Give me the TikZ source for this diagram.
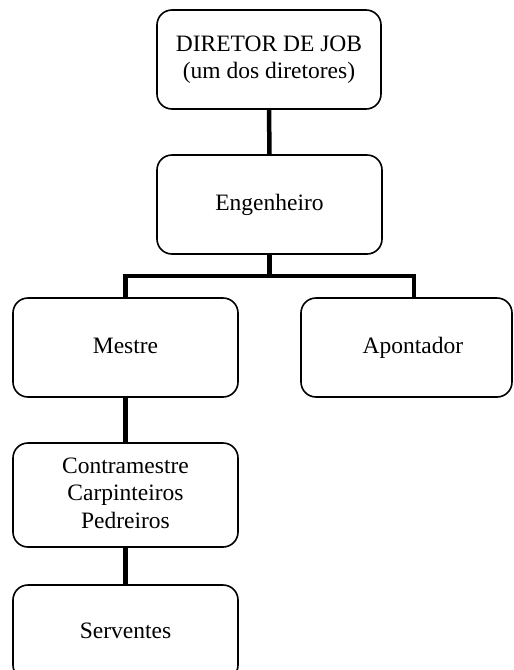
\documentclass[tikz,border=0pt]{standalone}
\usepackage{fontspec}
\setmainfont{Liberation Serif}
\begin{document}
\begin{tikzpicture}[x=1pt,y=-1pt,
  box/.style={draw=black, line width=1.6pt, rounded corners=15pt, fill=white,
    rectangle, inner sep=0pt, align=center,
    font=\fontsize{23.5}{27.5}\selectfont},
  link/.style={draw=black, line width=4.5pt, line join=miter}]
  \useasboundingbox (0,0) rectangle (514,670);
  \clip (0,0) rectangle (514,670);

  % boxes of the chart
  \node[box, minimum width=224pt, minimum height=99pt] (dir) at (269,59.5)
    {\strut DIRETOR DE JOB\\\strut(um dos diretores)};
  \node[box, minimum width=225pt, minimum height=99pt] (eng) at (269.5,204.5)
    {\strut Engenheiro};
  \node[box, minimum width=225pt, minimum height=99pt] (mes) at (125.5,347.5)
    {\strut Mestre};
  \node[box, minimum width=211pt, minimum height=99pt] (apo) at (406.5,347.5)
    {\hspace*{13pt}\strut Apontador};
  \node[box, minimum width=225pt, minimum height=104pt] (con) at (125.5,495)
    {\raisebox{-6.5pt}{\begin{tabular}{@{}c@{}}Contramestre\\Carpinteiros\\Pedreiros\end{tabular}}};
  \node[box, minimum width=225pt, minimum height=95pt] (ser) at (125.5,632.5)
    {\strut Serventes};

  % connectors
  \coordinate (bar) at (0,276);
  \coordinate (apoTop) at ([xshift=7.5pt]apo.north);
  \draw[link] (dir.south) -- (eng.north);
  \draw[link] (eng.south) -- (eng.south |- bar);
  \draw[link] (mes.north) -- (mes.north |- bar) -- (apoTop |- bar) -- (apoTop);
  \draw[link] (mes.south) -- (con.north);
  \draw[link] (con.south) -- (ser.north);
\end{tikzpicture}
\end{document}
